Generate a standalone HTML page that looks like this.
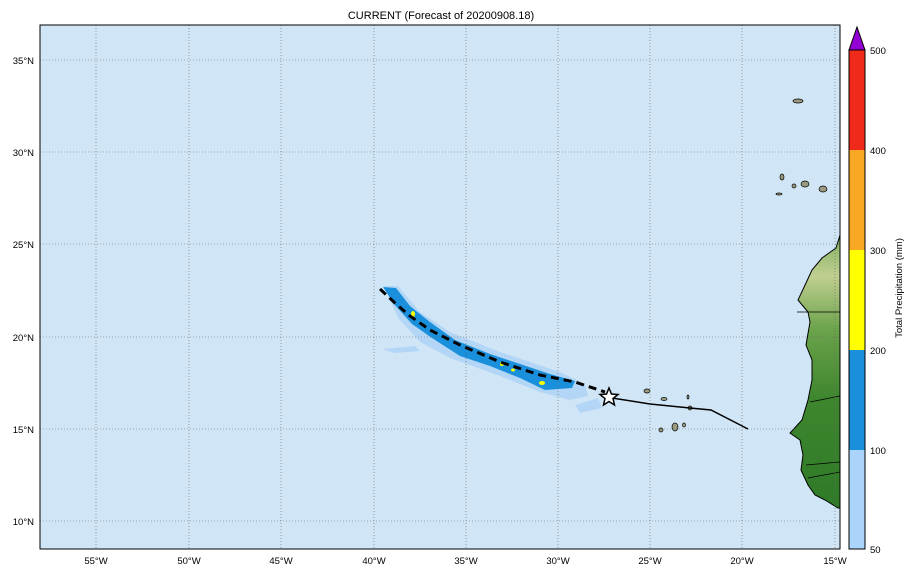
<!DOCTYPE html>
<html><head><meta charset="utf-8"><style>
body{margin:0;background:#fff;}
svg text{font-family:"Liberation Sans",sans-serif;font-size:9.5px;fill:#000;}
</style></head><body>
<svg width="915" height="576" xmlns="http://www.w3.org/2000/svg">
<defs>
<linearGradient id="land" x1="0" y1="0" x2="0" y2="1">
<stop offset="0" stop-color="#7fb060"/><stop offset="0.15" stop-color="#c0cf90"/><stop offset="0.35" stop-color="#6aa24a"/><stop offset="0.6" stop-color="#3e862e"/><stop offset="1" stop-color="#2f7a28"/>
</linearGradient>
<clipPath id="mc"><rect x="40" y="25" width="800" height="524"/></clipPath>
</defs>
<text x="441" y="19" text-anchor="middle" style="font-size:11px">CURRENT (Forecast of 20200908.18)</text>
<rect x="40" y="25" width="800" height="524" fill="#d0e6f6"/>
<g clip-path="url(#mc)">
<path d="M840,235 L836,248 L822,258 L812,270 L806,283 L798,300 L808,312 L810,322 L806,345 L812,360 L812,380 L808,400 L802,420 L790,433 L800,440 L803,455 L801,470 L808,485 L815,495 L825,500 L838,508 L840,508 Z" fill="url(#land)" stroke="#000" stroke-width="1"/>
<path d="M797,312 L840,312 M810,402 L840,396 M806,465 L840,462 M808,478 L840,472" stroke="#000" stroke-width="0.8" fill="none"/>
<g fill="#9a9a80" stroke="#000" stroke-width="0.7">
<ellipse cx="798" cy="101" rx="5" ry="2"/><ellipse cx="782" cy="177" rx="2" ry="3"/><ellipse cx="794" cy="186" rx="2" ry="2"/><ellipse cx="805" cy="184" rx="4" ry="3"/><ellipse cx="823" cy="189" rx="4" ry="3"/><ellipse cx="779" cy="194" rx="3" ry="1"/>
<ellipse cx="647" cy="391" rx="3" ry="2"/><ellipse cx="664" cy="399" rx="3" ry="1.5"/><ellipse cx="688" cy="397" rx="1" ry="2"/><ellipse cx="690" cy="408" rx="2" ry="2"/><ellipse cx="661" cy="430" rx="2" ry="2"/><ellipse cx="675" cy="427" rx="3" ry="4"/><ellipse cx="684" cy="425" rx="1.5" ry="2"/>
</g>
<g fill="#b4d6f6">
<path d="M384,286 L398,286 L420,312 L450,332 L500,352 L560,372 L585,384 L588,396 L570,400 L540,392 L500,376 L450,358 L420,342 L398,318 Z"/>
<path d="M382,349 L415,346 L420,351 L395,353 Z"/><path d="M575,405 L598,398 L602,408 L580,413 Z"/>
</g>
<g fill="#1a90dc">
<path d="M383,287 L396,288 L410,306 L430,322 L455,340 L490,354 L520,364 L550,374 L575,381 L572,388 L545,390 L520,378 L490,366 L460,356 L432,338 L412,324 L394,304 Z"/>
</g>
<g fill="#ffff00"><ellipse cx="413" cy="314" rx="2" ry="3"/><ellipse cx="502" cy="364" rx="2" ry="2"/><ellipse cx="542" cy="383" rx="3" ry="2"/><ellipse cx="513" cy="370" rx="2" ry="1.5"/></g>
<g stroke="#666" stroke-width="0.6" stroke-dasharray="1,2">
<line x1="96" y1="25" x2="96" y2="549"/><line x1="189" y1="25" x2="189" y2="549"/><line x1="281" y1="25" x2="281" y2="549"/><line x1="374" y1="25" x2="374" y2="549"/><line x1="466" y1="25" x2="466" y2="549"/><line x1="558" y1="25" x2="558" y2="549"/><line x1="650" y1="25" x2="650" y2="549"/><line x1="742" y1="25" x2="742" y2="549"/><line x1="835" y1="25" x2="835" y2="549"/>
<line x1="40" y1="60" x2="840" y2="60"/><line x1="40" y1="152" x2="840" y2="152"/><line x1="40" y1="244" x2="840" y2="244"/><line x1="40" y1="337" x2="840" y2="337"/><line x1="40" y1="429" x2="840" y2="429"/><line x1="40" y1="521" x2="840" y2="521"/>
</g>
<path d="M380,289 L395,303 L410,316 L430,330 L460,345 L500,362 L540,375 L575,382 L605,392" stroke="#000" stroke-width="3" fill="none" stroke-dasharray="8,5"/>
<path d="M612,398 L650,404 L690,408 L711,410 L748,429" stroke="#000" stroke-width="1.5" fill="none"/>
<path d="M609,388 L611.5,394 L618,394.5 L613,398.5 L614.5,405 L609,401.5 L603.5,405 L605,398.5 L600,394.5 L606.5,394 Z" fill="#fff" stroke="#000" stroke-width="1.5"/>
</g>
<rect x="40" y="25" width="800" height="524" fill="none" stroke="#000" stroke-width="1"/>
<g text-anchor="middle">
<text x="96" y="564">55°W</text><text x="189" y="564">50°W</text><text x="281" y="564">45°W</text><text x="374" y="564">40°W</text><text x="466" y="564">35°W</text><text x="558" y="564">30°W</text><text x="650" y="564">25°W</text><text x="742" y="564">20°W</text><text x="835" y="564">15°W</text>
</g>
<g text-anchor="end">
<text x="34" y="64">35°N</text><text x="34" y="156">30°N</text><text x="34" y="248">25°N</text><text x="34" y="341">20°N</text><text x="34" y="433">15°N</text><text x="34" y="525">10°N</text>
</g>
<rect x="849" y="450" width="16" height="99" fill="#aad4fa"/>
<rect x="849" y="350" width="16" height="100" fill="#1a90dc"/>
<rect x="849" y="250" width="16" height="100" fill="#ffff00"/>
<rect x="849" y="150" width="16" height="100" fill="#f8a822"/>
<rect x="849" y="50" width="16" height="100" fill="#f02a1a"/>
<path d="M849,50 L857,27 L865,50 Z" fill="#9400d3" stroke="#000" stroke-width="1"/>
<rect x="849" y="50" width="16" height="499" fill="none" stroke="#000" stroke-width="1"/>
<g text-anchor="start">
<text x="870" y="553">50</text><text x="870" y="454">100</text><text x="870" y="354">200</text><text x="870" y="254">300</text><text x="870" y="154">400</text><text x="870" y="54">500</text>
</g>
<text x="0" y="0" transform="translate(902,288) rotate(-90)" text-anchor="middle" style="font-size:9.5px">Total Precipitation (mm)</text>
</svg>
</body></html>
